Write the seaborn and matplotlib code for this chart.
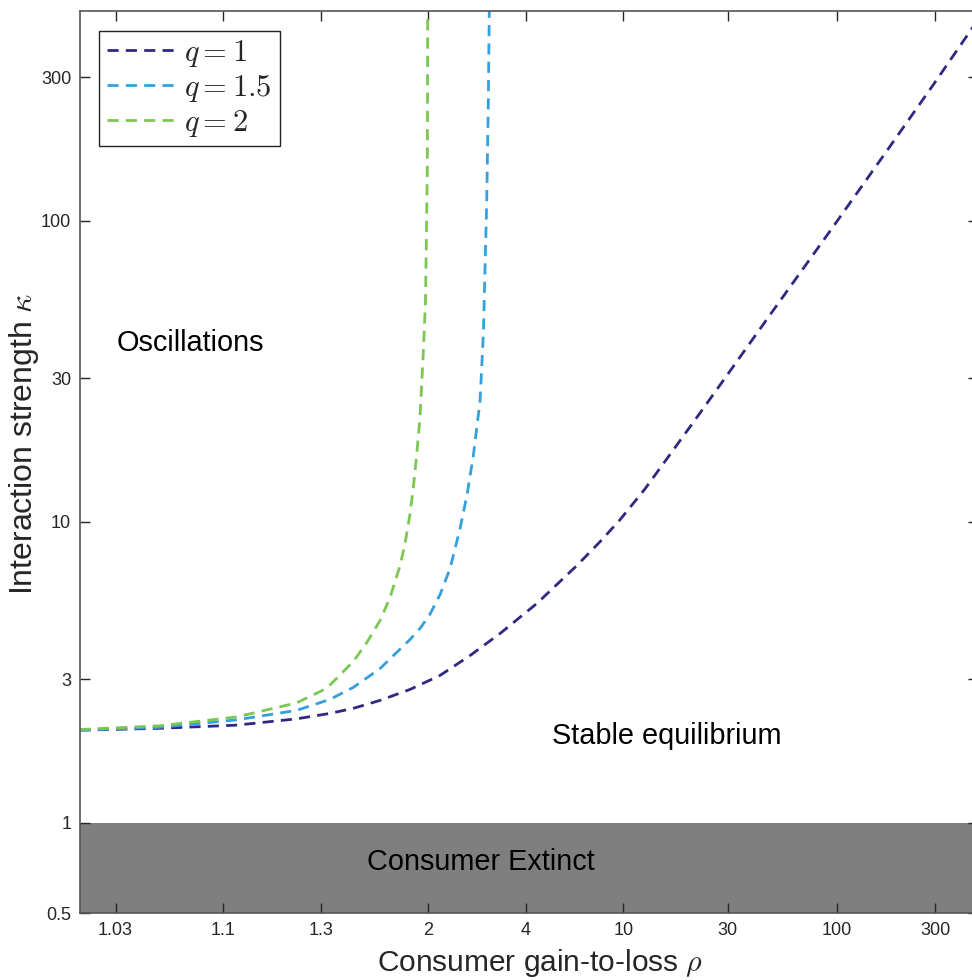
import numpy as np
import pandas as pd
import seaborn as sns
import matplotlib.pyplot as plt

# consumer gain-to-loss rho vs interaction strength kappa
rho_q1 = [1.020, 1.049, 1.117, 1.229, 1.333, 1.433, 1.585, 1.819, 2.147, 2.607,
          3.250, 4.398, 6.325, 7.918, 9.66, 12.47, 16.76, 22.27, 29.17, 49.46,
          96.1, 174.2, 293.4, 434.1, 495]
kappa_q1 = [2.03, 2.059, 2.11, 2.214, 2.308, 2.399, 2.550, 2.773, 3.086, 3.594,
            4.253, 5.349, 7.149, 8.587, 10.16, 12.87, 17.34, 23.0, 30.05, 50.5,
            95.9, 170.8, 283.8, 418.8, 476.9]

rho_q15 = [1.020, 1.049, 1.117, 1.229, 1.333, 1.433, 1.585, 1.819, 1.916, 2.025,
           2.147, 2.283, 2.436, 2.553, 2.667, 2.798, 2.866, 2.938, 2.973, 2.995]
kappa_q15 = [2.03, 2.075, 2.197, 2.362, 2.569, 2.816, 3.254, 4.063, 4.419, 4.935,
             5.728, 6.988, 9.484, 12.29, 16.56, 25.2, 41.95, 116.1, 249, 500]

rho_q2 = [1.020, 1.049, 1.117, 1.229, 1.321, 1.433, 1.504, 1.585, 1.654, 1.732,
          1.774, 1.819, 1.850, 1.883, 1.916, 1.951, 1.9745, 1.9945, 1.999]
kappa_q2 = [2.04, 2.099, 2.247, 2.501, 2.795, 3.434, 3.971, 4.70, 5.599, 7.149,
            8.457, 10.63, 13.0, 16.81, 22.2, 36.9, 54.1, 150, 500]

q_labels = ["$q=1$", "$q=1.5$", "$q=2$"]
colors = ["#2e2a82", "#35a0dc", "#7cc752"]

x_ticks = [1.03, 1.1, 1.3, 2, 4, 10, 30, 100, 300]
x_ticklabels = ["1.03", "1.1", "1.3", "2", "4", "10", "30", "100", "300"]
y_ticks = [0.5, 1, 3, 10, 30, 100, 300]
y_ticklabels = ["0.5", "1", "3", "10", "30", "100", "300"]

df = pd.concat([
    pd.DataFrame({"rho": rho_q1, "kappa": kappa_q1, "q": q_labels[0]}),
    pd.DataFrame({"rho": rho_q15, "kappa": kappa_q15, "q": q_labels[1]}),
    pd.DataFrame({"rho": rho_q2, "kappa": kappa_q2, "q": q_labels[2]}),
], ignore_index=True)

sns.set_style("ticks")
plt.rcParams["font.family"] = ["Liberation Sans", "DejaVu Sans"]
plt.rcParams["mathtext.fontset"] = "cm"

fig = plt.figure(figsize=(9.72, 9.80), dpi=100)
ax = fig.add_axes([0.0818, 0.0681, 0.9244, 0.921])

# x axis is logarithmic in (rho - 1)
def fwd(x):
    return np.log10(np.maximum(np.asarray(x, dtype=float) - 1, 1e-12))

def inv(x):
    return 10 ** np.asarray(x, dtype=float) + 1

ax.set_xscale("function", functions=(fwd, inv))
ax.set_yscale("log")

ax.axhspan(0.5, 1, color="#7f7f7f", lw=0, zorder=0)

sns.lineplot(data=df, x="rho", y="kappa", hue="q", style="q",
             hue_order=q_labels, palette=colors,
             dashes={lab: (4, 2.6) for lab in q_labels},
             estimator=None, sort=False, lw=2, legend=False, ax=ax)

ax.set_xlim(1.02, 484)
ax.set_ylim(0.5, 500)
ax.set_xticks(x_ticks)
ax.set_xticklabels(x_ticklabels)
ax.set_yticks(y_ticks)
ax.set_yticklabels(y_ticklabels)
ax.minorticks_off()
ax.tick_params(direction="in", length=7, width=1, top=True, right=True,
               labelsize=13, colors="#262626", pad=6)
for s in ax.spines.values():
    s.set_color("#555555")
    s.set_linewidth(1.2)

ax.set_xlabel(r"Consumer gain-to-loss $\rho$", fontsize=21.5, color="#262626", labelpad=6)
ax.xaxis.label.set_x(0.5125)
ax.set_ylabel(r"Interaction strength $\kappa$", fontsize=23, color="#262626", labelpad=0)
ax.yaxis.label.set_y(0.52)

ax.text(0.123, 0.632, "Oscillations", transform=ax.transAxes, fontsize=20.8,
        ha="center", va="center", color="black")
ax.text(0.654, 0.1964, "Stable equilibrium", transform=ax.transAxes, fontsize=20.8,
        ha="center", va="center", color="black")
ax.text(0.447, 0.0568, "Consumer Extinct", transform=ax.transAxes, fontsize=20.8,
        ha="center", va="center", color="black")

leg = ax.legend(ax.get_lines(), q_labels, loc="upper left", fontsize=22,
                handlelength=2.2, frameon=True, fancybox=False, framealpha=1,
                borderaxespad=0.65, labelspacing=0.12, handletextpad=0.33,
                borderpad=0.25)
leg.get_frame().set_edgecolor("#222222")
leg.get_frame().set_linewidth(1)

fig.savefig("out.png", dpi=100)
plt.close(fig)
